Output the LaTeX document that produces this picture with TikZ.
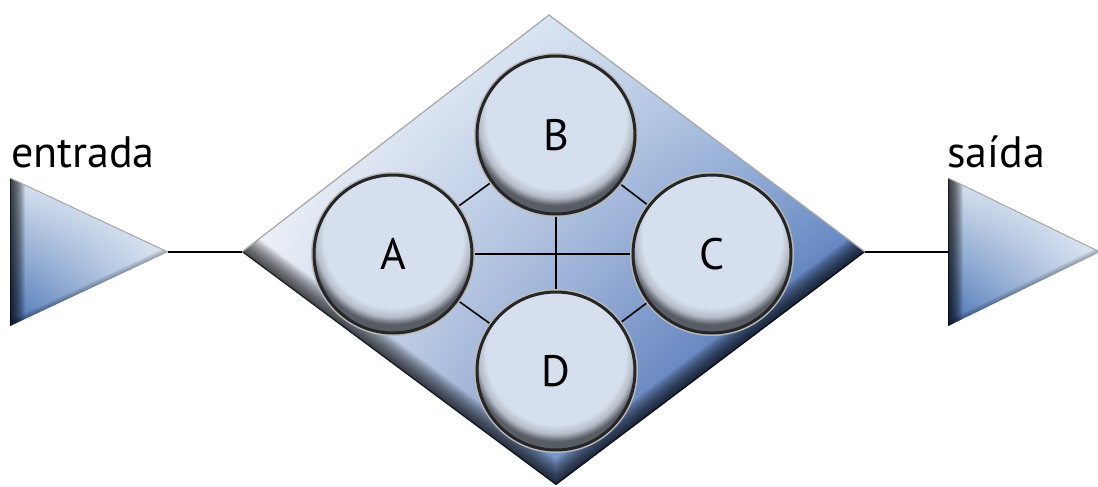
\documentclass[tikz,border=0pt]{standalone}
\usepackage{fontspec}
\setmainfont{PT Sans}
\usetikzlibrary{shapes.geometric,shadings}
\definecolor{cfill}{HTML}{D5DFEE}
\definecolor{cmid}{HTML}{B6BCC7}
\definecolor{cdark}{HTML}{575C65}
\definecolor{dUL}{HTML}{FFFFFF}
\definecolor{dUR}{HTML}{B4CAE6}
\definecolor{dLL}{HTML}{E0E7F2}
\definecolor{dLR}{HTML}{083A98}
\definecolor{tUL}{HTML}{D8E2EF}
\definecolor{tUR}{HTML}{F4F7FB}
\definecolor{tLL}{HTML}{4470B3}
\definecolor{tLR}{HTML}{C4D4EA}
\pgfdeclareradialshading{ballshade}{\pgfpoint{0bp}{9bp}}{color(0bp)=(cfill); color(22bp)=(cfill); color(24.5bp)=(cmid); color(26.5bp)=(cdark); color(50bp)=(cdark)}
\pgfdeclarelayer{bg}
\pgfdeclarelayer{conn}
\pgfsetlayers{bg,conn,main}
\tikzset{
  ball/.style={circle, minimum size=158pt, inner sep=0pt, shading=ballshade,
    draw=black!85, line width=3pt, preaction={draw=gray!55, line width=6pt},
    font=\fontsize{44}{50}\selectfont},
  conn/.style={draw=black, line width=1.6pt},
  lbl/.style={anchor=base west, inner sep=0pt, font=\fontsize{44}{50}\selectfont},
  bevel/.style={black, line join=miter}
}
\begin{document}
\begin{tikzpicture}[x=1pt,y=-1pt]
\useasboundingbox (0,0) rectangle (1098,487);
% named points
\coordinate (dT) at (549,15);
\coordinate (dR) at (865,252);
\coordinate (dB) at (556,485);
\coordinate (dL) at (242,252);
\coordinate (inT) at (10,178);
\coordinate (inB) at (10,326);
\coordinate (inTip) at (168,252);
\coordinate (outT) at (948,178);
\coordinate (outB) at (948,326);
\coordinate (outTip) at (1100,252);
\coordinate (outMid) at (948,252);

\begin{pgfonlayer}{bg}
% diamond
\shade[upper left=dUL, upper right=dUR, lower left=dLL, lower right=dLR]
  (dT) -- (dR) -- (dB) -- (dL) -- cycle;
\begin{scope}
  \clip (dT) -- (dR) -- (dB) -- (dL) -- cycle;
  \foreach \i in {1,...,18}
    \draw[bevel, line width=\i*2.3pt, opacity=0.06] (dL) -- (dB) -- (dR);
  \draw[bevel, line width=2.5pt, opacity=0.55] (dL) -- (dB) -- (dR);
\end{scope}
\draw[gray!70, line width=1.2pt] (dL) -- (dT) -- (dR);
% input triangle
\shade[upper left=tUL, upper right=tUR, lower left=tLL, lower right=tLR]
  (inT) -- (inTip) -- (inB) -- cycle;
\begin{scope}
  \clip (inT) -- (inTip) -- (inB) -- cycle;
  \foreach \i in {1,...,15}
    \draw[bevel, line width=\i*2pt, opacity=0.08] (inT) -- (inB);
  \draw[bevel, line width=2pt, opacity=0.6] (inT) -- (inB);
  \foreach \i in {1,...,5}
    \draw[bevel, line width=\i*2pt, opacity=0.06] (inB) -- (inTip);
\end{scope}
\draw[gray!70, line width=1pt] (inT) -- (inTip);
% output triangle
\shade[upper left=tUL, upper right=tUR, lower left=tLL, lower right=tLR]
  (outT) -- (outTip) -- (outB) -- cycle;
\begin{scope}
  \clip (outT) -- (outTip) -- (outB) -- cycle;
  \foreach \i in {1,...,15}
    \draw[bevel, line width=\i*2pt, opacity=0.08] (outT) -- (outB);
  \draw[bevel, line width=2pt, opacity=0.6] (outT) -- (outB);
  \foreach \i in {1,...,5}
    \draw[bevel, line width=\i*2pt, opacity=0.06] (outB) -- (outTip);
\end{scope}
\draw[gray!70, line width=1pt] (outT) -- (outTip);
\end{pgfonlayer}

% circles
\node[ball] (A) at (393,254) {A};
\node[ball] (B) at (556,135) {B};
\node[ball] (C) at (712,254) {C};
\node[ball] (D) at (556,371) {D};

\begin{pgfonlayer}{conn}
\draw[conn] (A) -- (C);
\draw[conn] (B) -- (D);
\draw[conn] (A) -- (B);
\draw[conn] (B) -- (C);
\draw[conn] (C) -- (D);
\draw[conn] (D) -- (A);
\draw[conn] (inTip) -- (dL);
\draw[conn] (dR) -- (outMid);
\end{pgfonlayer}

% labels
\node[lbl] (lin) at (11,167) {entrada};
\node[lbl] (lout) at (947,167) {saída};
\end{tikzpicture}
\end{document}
